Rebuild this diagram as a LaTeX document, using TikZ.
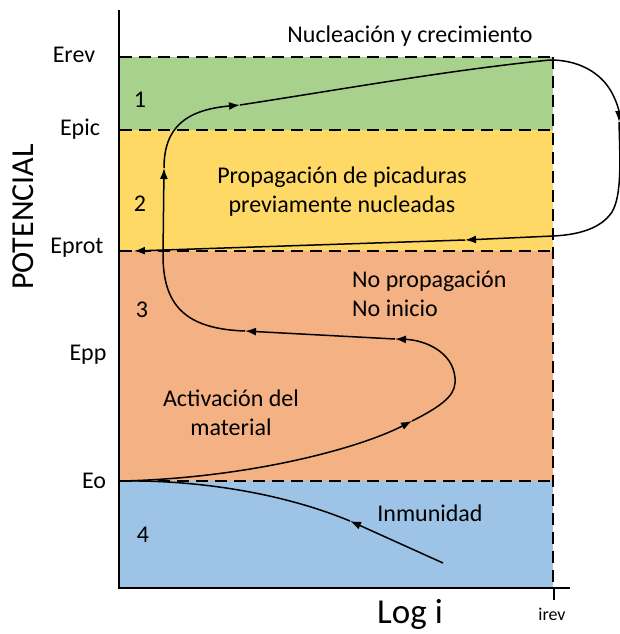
\documentclass[tikz,border=0pt]{standalone}
\usepackage{fontspec}
\setmainfont{Carlito}
\usetikzlibrary{arrows.meta}

\definecolor{zonauno}{HTML}{A9D18E}
\definecolor{zonados}{HTML}{FFD966}
\definecolor{zonatres}{HTML}{F4B183}
\definecolor{zonacuatro}{HTML}{9DC3E6}

\begin{document}
\begin{tikzpicture}[x=1pt, y=-1pt,
  eje/.style={line width=2.4pt},
  limite/.style={dash pattern=on 12pt off 7pt, line width=2.4pt},
  curva/.style={line width=1.5pt},
  punta/.style={-{Latex[length=11pt,width=8pt]}},
  texto/.style={font=\fontsize{24}{28}\selectfont, inner sep=0pt, anchor=base},
  numero/.style={font=\fontsize{24}{28}\selectfont, inner sep=0pt, anchor=base}]

  \useasboundingbox (0,0) rectangle (620,634);

  % Define zones
  \fill[zonauno] (120,57) rectangle (553,130);
  \fill[zonados] (120,130) rectangle (553,251);
  \fill[zonatres] (120,251) rectangle (553,481);
  \fill[zonacuatro] (120,481) rectangle (553,588);

  % Limits
  \draw[limite] (120,57) -- (553,57);
  \draw[limite] (120,130) -- (553,130);
  \draw[limite] (120,251) -- (553,251);
  \draw[limite] (120,481) -- (553,481);
  \draw[limite] (553,57) -- (553,588);

  % Axes
  \draw[eje] (119,10) -- (119,589);
  \draw[eje] (118,588) -- (570,588);
  \draw[eje] (554,588) -- (554,600);

  % Define labels
  \node[texto] (erev) at (74,63) {Erev};
  \node[texto] (epic) at (80,135) {Epic};
  \node[texto] (eprot) at (77,253) {Eprot};
  \node[texto] (epp) at (88,360) {Epp};
  \node[texto] (eo) at (94,488) {Eo};
  \node[font=\fontsize{32}{36}\selectfont, inner sep=0pt, anchor=base, rotate=90] (pot) at (33,217) {POTENCIAL};
  \node[font=\fontsize{35}{40}\selectfont, inner sep=0pt, anchor=base] (logi) at (410,623) {Log i};
  \node[font=\fontsize{18}{21}\selectfont, inner sep=0pt, anchor=base] (irev) at (552,620) {irev};

  \node[numero] (n1) at (140,107) {1};
  \node[numero] (n2) at (140,211) {2};
  \node[numero] (n3) at (142,317) {3};
  \node[numero] (n4) at (143,542) {4};

  \node[texto] (nuc) at (410,43) {Nucleación y crecimiento};
  \node[texto] (prop1) at (342,183) {Propagación de picaduras};
  \node[texto] (prop2) at (342,212) {previamente nucleadas};
  \node[texto, anchor=base west] (nop1) at (352,287) {No propagación};
  \node[texto, anchor=base west] (nop2) at (352,316) {No inicio};
  \node[texto] (act1) at (231,406) {Activación del};
  \node[texto] (act2) at (231,435) {material};
  \node[texto] (inm) at (430,521) {Inmunidad};

  % Define curve points
  \coordinate (o) at (122,481);
  \coordinate (p1) at (412,421);
  \coordinate (p2) at (395,339);
  \coordinate (p3) at (245,331);
  \coordinate (p4) at (164,168);
  \coordinate (p5) at (240,105);
  \coordinate (p6) at (550,60);
  \coordinate (p7) at (619,122);
  \coordinate (p8) at (553,236);
  \coordinate (p9) at (465,240);
  \coordinate (p10) at (134,251);
  \coordinate (q1) at (443,563);
  \coordinate (q2) at (350,521);

  % Connect the points
  \draw[curva, punta] (o) .. controls (250,478) and (360,448) .. (p1);
  \draw[curva, punta] (p1) .. controls (450,402) and (456,392) .. (455,378)
    .. controls (453,352) and (425,340) .. (p2);
  \draw[curva, punta] (p2) -- (p3);
  \draw[curva, punta] (p3) .. controls (185,329) and (163,305) .. (163,255) -- (p4);
  \draw[curva, punta] (p4) .. controls (164,128) and (185,110) .. (p5);
  \draw[curva] (p5) .. controls (350,88) and (450,70) .. (p6);
  \draw[curva, punta] (p6) .. controls (585,60) and (605,78) .. (613,95)
    .. controls (617,103) and (619,110) .. (p7);
  \draw[curva] (p7) .. controls (620,160) and (622,195) .. (612,212)
    .. controls (600,230) and (575,235) .. (p8);
  \draw[curva, punta] (p8) -- (p9);
  \draw[curva, punta] (p9) -- (p10);
  \draw[curva, punta] (q1) -- (q2);
  \draw[curva] (q2) .. controls (270,488) and (180,480) .. (o);

\end{tikzpicture}
\end{document}
